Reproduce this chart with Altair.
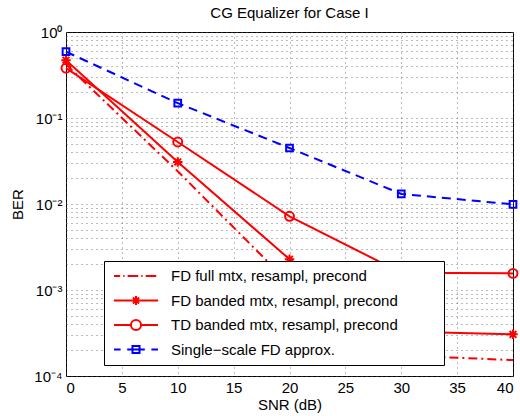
import altair as alt
import pandas as pd

# ---------------- data ----------------
snr = [0, 10, 20, 30, 40]
ber_fd_full = [0.42, 0.024, 0.00119, 0.000174, 0.000153]
ber_fd_banded = [0.47, 0.0308, 0.00228, 0.00033, 0.000305]
ber_td_banded = [0.38, 0.0526, 0.0072, 0.00159, 0.00156]
ber_single = [0.59, 0.149, 0.0448, 0.0131, 0.0099]

series_names = [
    "FD full mtx, resampl, precond",
    "FD banded mtx, resampl, precond",
    "TD banded mtx, resampl, precond",
    "Single\u2212scale FD approx.",
]
series_colors = ["#ff0000", "#ff0000", "#ff0000", "#0000ff"]

x_ticks = [0, 5, 10, 15, 20, 25, 30, 35, 40]
y_decades = [1e-4, 1e-3, 1e-2, 1e-1, 1]
y_decade_labels = ["10\u207b\u2074", "10\u207b\u00b3", "10\u207b\u00b2", "10\u207b\u00b9", "10\u2070"]

title_text = "CG Equalizer for Case I"
x_title = "SNR (dB)"
y_title = "BER"

# ---------------- helpers ----------------
FONT = "Liberation Sans"

y_grid_values = []
for d in y_decades[:-1]:
    y_grid_values.append(d)
    for k in range(2, 10):
        y_grid_values.append(round(d * k, 10))
y_grid_values.append(y_decades[-1])

label_expr = ""
for v, lab in zip(y_decades, y_decade_labels):
    label_expr += f"datum.value == {v} ? '{lab}' : "
label_expr += "''"


def frame(values, name):
    return pd.DataFrame({"snr": snr, "ber": values, "series": name})


x_enc = alt.X(
    "snr:Q",
    scale=alt.Scale(domain=[0, 40], nice=False, zero=False),
    axis=alt.Axis(values=x_ticks, title=x_title, labelPadding=4, titlePadding=2),
)
y_enc = alt.Y(
    "ber:Q",
    scale=alt.Scale(type="log", domain=[1e-4, 1], nice=False),
    axis=alt.Axis(values=y_grid_values, labelExpr=label_expr, title=y_title,
                  labelPadding=4, titlePadding=8),
)

RED = series_colors[0]
BLUE = series_colors[3]
LW = 2

asterisk = "M-1 0L1 0M0 -1L0 1M-0.7 -0.7L0.7 0.7M-0.7 0.7L0.7 -0.7"

fd_full_line = alt.Chart(frame(ber_fd_full, series_names[0])).mark_line(
    color=RED, strokeWidth=LW, strokeDash=[9, 4, 2, 4]
).encode(x=x_enc, y=y_enc)

fd_banded_line = alt.Chart(frame(ber_fd_banded, series_names[1])).mark_line(
    color=RED, strokeWidth=LW
).encode(x=x_enc, y=y_enc)
fd_banded_pts = alt.Chart(frame(ber_fd_banded, series_names[1])).mark_point(
    color=RED, strokeWidth=LW, filled=False, shape=asterisk, size=90, opacity=1
).encode(x=x_enc, y=y_enc)

td_line = alt.Chart(frame(ber_td_banded, series_names[2])).mark_line(
    color=RED, strokeWidth=LW
).encode(x=x_enc, y=y_enc)
td_pts = alt.Chart(frame(ber_td_banded, series_names[2])).mark_point(
    color=RED, strokeWidth=LW, filled=False, shape="circle", size=80, opacity=1
).encode(x=x_enc, y=y_enc)

single_line = alt.Chart(frame(ber_single, series_names[3])).mark_line(
    color=BLUE, strokeWidth=LW, strokeDash=[9, 6]
).encode(x=x_enc, y=y_enc)
single_pts = alt.Chart(frame(ber_single, series_names[3])).mark_point(
    color=BLUE, strokeWidth=LW, filled=False, shape="square", size=45, opacity=1
).encode(x=x_enc, y=y_enc)

# legend symbols: line sample + marker, in unit space [-1, 1]
legend_paths = [
    "M-1 0L-0.72 0M-0.58 0L-0.52 0M-0.38 0L0.1 0M0.24 0L0.3 0M0.44 0L0.92 0",
    "M-1 0L1 0M-0.2 0L0.2 0M0 -0.2L0 0.2M-0.14 -0.14L0.14 0.14M-0.14 0.14L0.14 -0.14",
    "M-1 0L-0.23 0M0.23 0L1 0M0.23 0A0.23 0.23 0 1 1 -0.23 0A0.23 0.23 0 1 1 0.23 0",
    "M-1 0L-0.7 0M-0.4 0L0.4 0M0.7 0L1 0M-0.16 -0.16L0.16 -0.16L0.16 0.16L-0.16 0.16Z",
]

legend_df = pd.DataFrame({"snr": [-100] * 4, "ber": [0.5] * 4, "series": series_names})

# widen the legend box like MATLAB's (non-breaking spaces kept by a zero-width char)
pad = "\u00a0" * 10 + "\u200b"
legend = alt.Legend(
    orient="none", legendX=38, legendY=229, title=None,
    strokeColor="black", fillColor="white", padding=4,
    symbolOffset=5, labelOffset=12, clipHeight=22, rowPadding=2.5,
    symbolSize=1936, symbolStrokeWidth=2, symbolFillColor="transparent",
    labelFont=FONT, labelFontSize=15, labelColor="black", labelLimit=600,
    labelExpr=f"datum.label + '{pad}'",
)

legend_layer = alt.Chart(legend_df).mark_point(filled=False, clip=True, strokeWidth=2, opacity=1).encode(
    x=x_enc, y=y_enc,
    color=alt.Color("series:N", scale=alt.Scale(domain=series_names, range=series_colors), legend=legend),
    shape=alt.Shape("series:N", scale=alt.Scale(domain=series_names, range=legend_paths), legend=legend),
)

chart = alt.layer(
    fd_full_line, fd_banded_line, fd_banded_pts, td_line, td_pts, single_line, single_pts, legend_layer
).properties(
    width=447, height=344,
    autosize=alt.AutoSizeParams(type="none"),
    padding={"left": 66, "top": 32, "right": 7, "bottom": 40},
    title=alt.TitleParams(text=title_text, font=FONT, fontSize=15, fontWeight="normal",
                          color="black", anchor="middle", frame="group",
                          baseline="alphabetic", offset=11, dy=19),
).configure_view(
    stroke="black", strokeWidth=1
).configure_axis(
    domain=False, ticks=False, grid=True, gridColor="#555555", gridDash=[1, 4],
    gridOpacity=0.8, gridWidth=1,
    labelFont=FONT, labelFontSize=15, labelColor="black",
    titleFont=FONT, titleFontSize=15, titleFontWeight="normal", titleColor="black",
)

chart.save("out.html", embed_options={"renderer": "svg", "actions": False})
